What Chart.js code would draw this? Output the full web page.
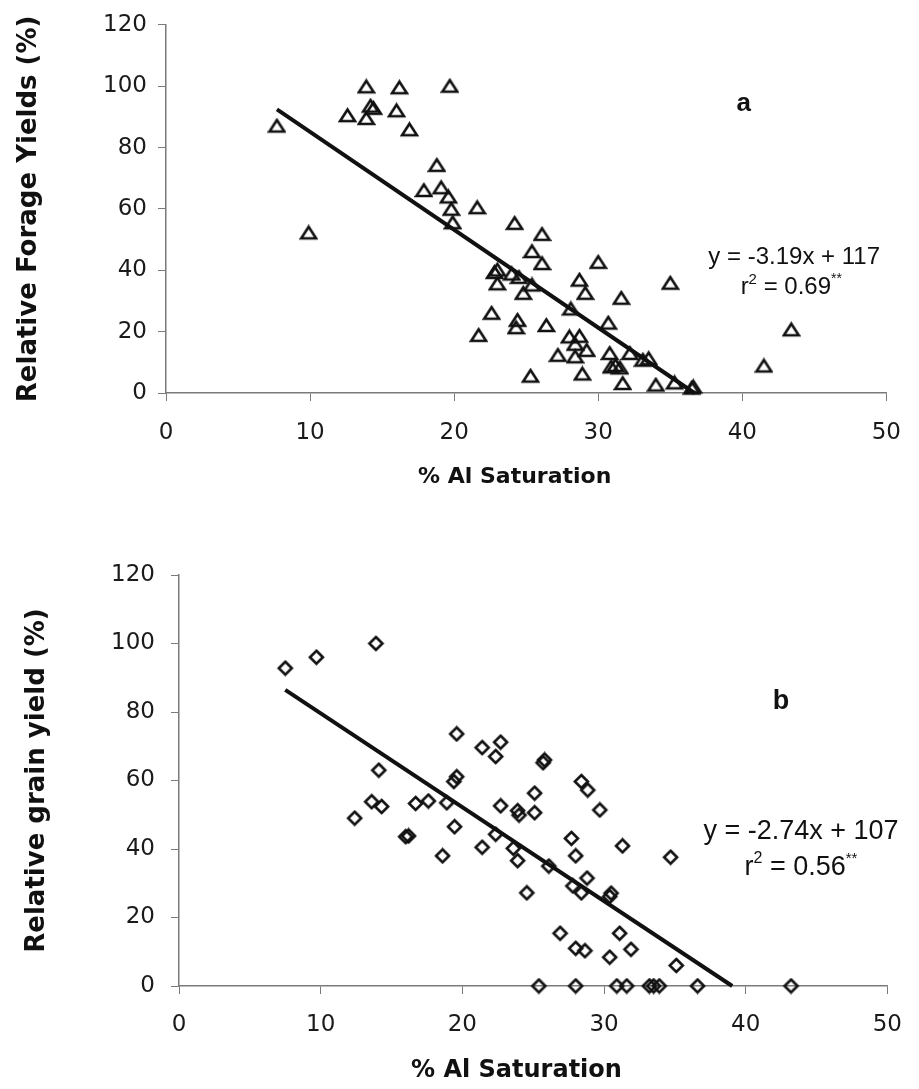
<!DOCTYPE html>
<html>
<head>
<meta charset="utf-8">
<script src="https://cdn.jsdelivr.net/npm/chart.js@4.4.1/dist/chart.umd.min.js"></script>
<style>
  html, body { margin: 0; padding: 0; background: #fff; }
  #forageBox { position: absolute; left: 0; top: 0; width: 919px; height: 490px; }
  #grainBox { position: absolute; left: 0; top: 520px; width: 919px; height: 565px; }
</style>
</head>
<body>
<div id="forageBox"><canvas id="forageChart"></canvas></div>
<div id="grainBox"><canvas id="grainChart"></canvas></div>
<script>
// (a) relative forage yield vs Al saturation
const forageAl = [7.7, 9.9, 12.6, 13.9, 13.9, 14.4, 14.2, 16.2, 16.0, 16.9, 18.8, 17.9, 19.1, 19.6, 19.8, 19.9, 19.7,
  21.6, 24.2, 26.1, 25.4, 26.1, 22.8, 23.0, 23.0, 24.0, 24.5, 25.4, 24.8, 30.0, 28.7, 29.1, 31.6, 28.1, 30.7,
  22.6, 24.4, 24.3, 26.4, 21.7, 28.0, 28.7, 28.4, 29.2, 27.2, 28.4, 30.8, 30.9, 31.2, 31.5, 28.9, 25.3, 31.7,
  32.2, 33.1, 33.5, 34.0, 35.3, 36.6, 36.5, 35.0, 43.4, 41.5];
const forageYield = [87, 52.2, 90.4, 99.8, 89.5, 92.8, 93.5, 99.5, 92, 85.8, 74.2, 66, 66.9, 63.9, 59.9, 55.5, 100,
  60.4, 55.3, 51.7, 46.1, 42.2, 39.3, 40.1, 35.6, 38.8, 37.7, 35.2, 32.5, 42.6, 36.8, 32.5, 30.9, 27.4, 22.8,
  26, 23.7, 21.3, 22, 18.8, 18.3, 18.5, 15.9, 13.9, 12.3, 11.8, 12.9, 8.5, 9, 8.2, 6.2, 5.5, 3.1,
  12.9, 10.7, 11.2, 2.6, 3.3, 2, 1.6, 35.8, 20.6, 8.8];

// (b) relative grain yield vs Al saturation
const grainAl = [7.5, 9.7, 13.9, 14.1, 13.6, 14.3, 12.4, 16.7, 17.6, 18.9, 16.0, 16.2, 19.45, 18.6, 19.6, 19.6, 19.4,
  21.4, 22.7, 22.35, 21.4, 22.35, 22.7, 23.9, 24.0, 25.1, 25.1, 25.8, 25.7, 23.6, 23.9, 26.1, 24.55, 27.7, 28.0,
  28.4, 28.85, 29.7, 31.3, 28.8, 27.8, 28.4, 30.5, 30.4, 34.7, 26.9, 31.1, 28.0, 28.65, 31.9, 30.4, 35.1,
  25.4, 28.0, 30.9, 31.6, 33.2, 33.5, 33.9, 36.6, 43.2];
const grainYield = [92.8, 96, 100, 63, 53.8, 52.4, 49, 53.3, 54, 53.5, 43.6, 43.8, 46.5, 38, 73.6, 61.1, 59.7,
  69.6, 71.2, 67, 40.5, 44.3, 52.6, 51.2, 49.9, 50.6, 56.3, 66, 65.2, 40.2, 36.6, 35, 27.2, 43.1, 38,
  59.7, 57.2, 51.4, 40.9, 31.5, 29.2, 27.2, 27.1, 26.1, 37.6, 15.4, 15.4, 11, 10.3, 10.7, 8.4, 6,
  0, 0, 0, 0, 0, 0, 0, 0, 0];

// fitted lines y = slope * x + intercept, drawn over the span of the data
const forageFit = { slope: -3.19, intercept: 117, from: 7.7, to: 36.7 };
const grainFit = { slope: -2.74, intercept: 107, from: 7.5, to: 39.05 };

const xTicks = [0, 10, 20, 30, 40, 50];
const yTicks = [0, 20, 40, 60, 80, 100, 120];

function makeMarker(shape) {
  const c = document.createElement('canvas');
  c.width = 19; c.height = 17;
  const g = c.getContext('2d');
  g.strokeStyle = '#111';
  g.lineWidth = 2.6;
  g.beginPath();
  if (shape === 'triangle') {
    g.moveTo(9.5, 2.5); g.lineTo(17, 14); g.lineTo(2, 14);
  } else {
    g.moveTo(9.5, 2); g.lineTo(16, 8.5); g.lineTo(9.5, 15); g.lineTo(3, 8.5);
  }
  g.closePath();
  g.stroke();
  return c;
}

function points(xs, ys) {
  return xs.map((x, i) => ({ x: x, y: ys[i] }));
}

function fitLine(f) {
  return [f.from, f.to].map(x => ({ x: x, y: f.slope * x + f.intercept }));
}

// text runs with superscripts, centred on a data position
const notes = {
  id: 'notes',
  afterDatasetsDraw(chart, args, opts) {
    const { ctx, scales: { x, y } } = chart;
    ctx.save();
    ctx.fillStyle = '#111';
    ctx.textBaseline = 'middle';
    ctx.textAlign = 'left';
    opts.items.forEach(item => {
      let total = 0;
      item.runs.forEach(r => { ctx.font = r.font; total += ctx.measureText(r.t).width; });
      let px = x.getPixelForValue(item.x) - total / 2;
      const py = y.getPixelForValue(item.y);
      item.runs.forEach(r => {
        ctx.font = r.font;
        ctx.fillText(r.t, px, py + (r.dy || 0));
        px += ctx.measureText(r.t).width;
      });
    });
    ctx.restore();
  }
};

function makeChart(id, cfg) {
  const axisColor = '#7a7a7a';
  return new Chart(document.getElementById(id), {
    type: 'scatter',
    data: {
      datasets: [{
        data: cfg.data,
        pointStyle: cfg.marker,
        pointRadius: 8,
        clip: false
      }, {
        data: cfg.fit,
        showLine: true,
        borderColor: '#111',
        borderWidth: 4,
        pointRadius: 0,
        clip: false
      }]
    },
    options: {
      responsive: true,
      maintainAspectRatio: false,
      animation: false,
      events: [],
      layout: { padding: { left: 0, right: 22, top: cfg.padTop, bottom: 0 } },
      plugins: {
        legend: { display: false },
        tooltip: { enabled: false },
        notes: { items: cfg.notes }
      },
      scales: {
        x: {
          type: 'linear',
          min: 0, max: 50,
          afterBuildTicks: s => { s.ticks = xTicks.map(v => ({ value: v })); },
          afterFit: s => { s.height = cfg.xHeight; },
          grid: { drawOnChartArea: false, tickLength: 8, color: axisColor, tickColor: axisColor },
          border: { color: axisColor, width: 1.5 },
          ticks: { color: '#1a1a1a', padding: cfg.xPad, font: { family: 'DejaVu Sans', size: cfg.tickSize } },
          title: {
            // trailing spaces nudge the centred title a little to the left
            display: true, text: '% Al Saturation' + cfg.xTitleTail, color: '#111',
            padding: { top: 0, bottom: 0 },
            font: { family: 'DejaVu Sans', weight: 'bold', size: cfg.xTitleSize }
          }
        },
        y: {
          type: 'linear',
          min: 0, max: 120,
          afterBuildTicks: s => { s.ticks = yTicks.map(v => ({ value: v })); },
          afterFit: s => { s.width = cfg.yWidth; },
          grid: { drawOnChartArea: false, tickLength: 8, color: axisColor, tickColor: axisColor },
          border: { color: axisColor, width: 1.5 },
          ticks: { color: '#1a1a1a', padding: cfg.yPad, font: { family: 'DejaVu Sans', size: cfg.tickSize } },
          title: {
            display: true, text: cfg.yTitle, color: '#111',
            padding: { top: cfg.yTitlePad, bottom: 0 },
            font: { family: 'DejaVu Sans', weight: 'bold', size: 26 }
          }
        }
      }
    },
    plugins: [notes]
  });
}

makeChart('forageChart', {
  data: points(forageAl, forageYield),
  fit: fitLine(forageFit),
  marker: makeMarker('triangle'),
  yTitle: 'Relative Forage Yields (%)',
  padTop: 23, yWidth: 166, xHeight: 97,
  xPad: 18, yPad: 11, yTitlePad: 14,
  tickSize: 23, xTitleSize: 22, xTitleTail: '   ',
  notes: [
    { x: 40.1, y: 94.4, runs: [{ t: 'a', font: 'bold 26px "Liberation Sans"' }] },
    { x: 43.6, y: 44.1, runs: [{ t: 'y = -3.19x + 117', font: '24px "Liberation Sans"' }] },
    { x: 43.4, y: 34.4, runs: [
      { t: 'r', font: '24px "Liberation Sans"' },
      { t: '2', font: '15px "Liberation Sans"', dy: -8 },
      { t: ' = 0.69', font: '24px "Liberation Sans"' },
      { t: '**', font: '14px "Liberation Sans"', dy: -8 }
    ] }
  ]
});

makeChart('grainChart', {
  data: points(grainAl, grainYield),
  fit: fitLine(grainFit),
  marker: makeMarker('diamond'),
  yTitle: 'Relative grain yield (%)',
  padTop: 55, yWidth: 179, xHeight: 99,
  xPad: 17, yPad: 16, yTitlePad: 22,
  tickSize: 23, xTitleSize: 24, xTitleTail: '    ',
  notes: [
    { x: 42.5, y: 83, runs: [{ t: 'b', font: 'bold 27px "Liberation Sans"' }] },
    { x: 43.9, y: 45, runs: [{ t: 'y = -2.74x + 107', font: '27px "Liberation Sans"' }] },
    { x: 43.9, y: 34.5, runs: [
      { t: 'r', font: '27px "Liberation Sans"' },
      { t: '2', font: '16px "Liberation Sans"', dy: -9 },
      { t: ' = 0.56', font: '27px "Liberation Sans"' },
      { t: '**', font: '15px "Liberation Sans"', dy: -9 }
    ] }
  ]
});
</script>
</body>
</html>
